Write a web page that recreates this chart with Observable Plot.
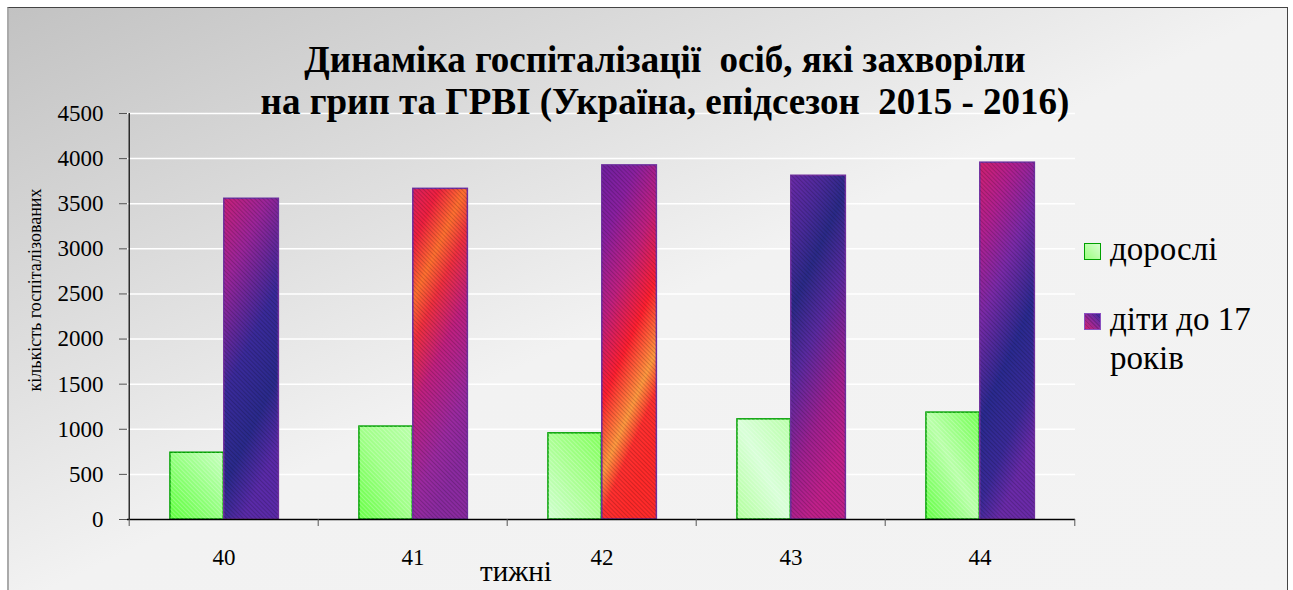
<!DOCTYPE html>
<html><head><meta charset="utf-8">
<script src="https://cdn.jsdelivr.net/npm/d3@7"></script>
<script src="https://cdn.jsdelivr.net/npm/@observablehq/plot@0.6"></script>
<style>
body{margin:0;width:1293px;height:590px;overflow:hidden;background:#fff;font-family:'Liberation Serif',serif;position:relative;}
#bg{position:absolute;left:7px;top:7px;width:1278px;height:600px;border-top:1px solid #444;border-right:1.5px solid #444;border-left:2px solid #aaa;background:linear-gradient(to bottom right,#c2c2c2 0%,#f2f2f2 50%,#f3f3f3 100%);}
#chart{position:absolute;left:0;top:0;}
#chart svg text{font-family:'Liberation Serif',serif;}
#title{position:absolute;left:0;width:1330px;top:39px;text-align:center;font-weight:bold;font-size:37px;line-height:42px;color:#000;white-space:pre;font-family:'Liberation Serif',serif;}
#ylab{position:absolute;left:35px;top:290px;transform:translate(-50%,-50%) rotate(-90deg);font-size:18px;white-space:nowrap;color:#000;font-family:'Liberation Serif',serif;}
#xlab{position:absolute;left:516px;top:557px;transform:translateX(-50%);font-size:29px;white-space:nowrap;color:#000;line-height:1;font-family:'Liberation Serif',serif;}
.leg{position:absolute;left:1084px;font-size:33px;line-height:39px;color:#000;font-family:'Liberation Serif',serif;}
.sw{position:absolute;left:0;width:17px;height:17px;box-sizing:border-box;}
.lt{position:absolute;left:26px;white-space:nowrap;}
</style></head><body>
<div id="bg"></div>
<div id="chart"></div>
<div id="title"></div>
<div id="ylab"></div>
<div id="xlab"></div>
<div id="legend"></div>
<script>
// ---- data ----
const weeks = ["40", "41", "42", "43", "44"];
const adults = [740, 1030, 955, 1110, 1185];
const children = [3555, 3665, 3925, 3810, 3955];
const seriesNames = ["дорослі", "діти до 17 років"];
const yTicks = [0, 500, 1000, 1500, 2000, 2500, 3000, 3500, 4000, 4500];
const titleLines = ["Динаміка госпіталізації  осіб, які захворіли", "на грип та ГРВІ (Україна, епідсезон  2015 - 2016)"];
const yLabel = "кількість госпіталізованих";
const xLabel = "тижні";

// ---- styles (gradients per bar) ----
const greenGrads = [
  [[0,"#c8ffc0"],[1,"#5cff3a"]],
  [[0,"#b8ffa8"],[0.5,"#a0ff88"],[1,"#66ff44"]],
  [[0,"#80ff5a"],[0.5,"#a8ff90"],[1,"#d0ffd0"]],
  [[0,"#b8ffa8"],[0.5,"#d8ffd8"],[1,"#b0ff9a"]],
  [[0,"#70ff50"],[0.5,"#b8ffa8"],[1,"#60ff40"]]
];
const purpleGrads = [
  [[0,"#c8207a"],[0.25,"#9a259a"],[0.55,"#3a2a9a"],[0.8,"#2a2a8c"],[1,"#5a2aa8"]],
  [[0,"#d82060"],[0.15,"#f02040"],[0.3,"#ff7030"],[0.42,"#f03040"],[0.6,"#c02080"],[0.85,"#9a2aa0"],[1,"#8a2aa0"]],
  [[0,"#7020a0"],[0.2,"#8a20a0"],[0.4,"#c02080"],[0.6,"#ff2030"],[0.78,"#ff9a40"],[0.88,"#ff3030"],[1,"#ff2a2a"]],
  [[0,"#6a2aa8"],[0.2,"#4a2a9a"],[0.35,"#2a2a88"],[0.55,"#5a2aa0"],[0.8,"#a02090"],[1,"#c0208a"]],
  [[0,"#d02070"],[0.2,"#b02090"],[0.4,"#7a2aa8"],[0.65,"#2a2a90"],[0.85,"#3a2a98"],[1,"#6a2aa8"]]
];

const W = 1293, H = 590, ML = 127, MR = 218, MT = 113, MB = 71;
const step = (W - ML - MR) / weeks.length;
const rows = weeks.map((w, i) => ({week: w, adults: adults[i], children: children[i], i}));

const font = "'Liberation Serif', serif";
const chart = Plot.plot({
  width: W, height: H, marginLeft: ML, marginRight: MR, marginTop: MT, marginBottom: MB,
  style: {background: "transparent", fontFamily: font, overflow: "visible", color: "#000"},
  x: {domain: weeks, padding: 0},
  y: {domain: [0, 4500]},
  color: {type: "identity"},
  marks: [
    Plot.gridY(yTicks, {stroke: "#fff", strokeOpacity: 1, strokeWidth: 1.5}),
    Plot.barY(rows, {x: "week", y: "adults", fill: d => `url(#gA${d.i})`, stroke: "#00a000", strokeWidth: 1.5, insetLeft: 0.216 * step, insetRight: 0.5 * step}),
    Plot.barY(rows, {x: "week", y: "adults", fill: "url(#stripesL)", insetLeft: 0.216 * step, insetRight: 0.5 * step}),
    Plot.barY(rows, {x: "week", y: "children", fill: d => `url(#gC${d.i})`, stroke: "#7030a0", strokeWidth: 1.5, insetLeft: 0.5 * step, insetRight: 0.209 * step}),
    Plot.barY(rows, {x: "week", y: "children", fill: "url(#stripes)", insetLeft: 0.5 * step, insetRight: 0.209 * step}),
    Plot.ruleY([0], {stroke: "#000", strokeWidth: 1.5}),
    Plot.ruleX([weeks[0]], {dx: -step / 2, stroke: "#000", strokeWidth: 1.2}),
    Plot.axisY(yTicks, {tickSize: 8, tickPadding: 16, fontSize: 23, stroke: "#555", fill: "#000", fontFamily: font, tickFormat: d => String(d), label: null}),
    Plot.axisX(weeks, {dx: -step / 2, tickSize: 7, tickFormat: () => "", stroke: "#555", label: null}),
    Plot.axisX([weeks[weeks.length - 1]], {dx: step / 2, tickSize: 7, tickFormat: () => "", stroke: "#555", label: null}),
    Plot.axisX(weeks, {tickSize: 0, tickPadding: 29, fontSize: 23, fill: "#000", fontFamily: font, label: null})
  ]
});

// gradient / pattern definitions
const defs = d3.select(chart).insert("defs", ":first-child");
function addGrad(id, stops, x1, y1, x2, y2) {
  const g = defs.append("linearGradient").attr("id", id)
    .attr("x1", x1).attr("y1", y1).attr("x2", x2).attr("y2", y2);
  stops.forEach(([o, c]) => g.append("stop").attr("offset", o).attr("stop-color", c));
}
greenGrads.forEach((s, i) => addGrad("gA" + i, s, 1, 0, 0, 1));
purpleGrads.forEach((s, i) => addGrad("gC" + i, s, 0, 0, 0.35, 1));
const p = defs.append("pattern").attr("id", "stripes").attr("width", 3).attr("height", 3)
  .attr("patternUnits", "userSpaceOnUse").attr("patternTransform", "rotate(-45)");
p.append("rect").attr("width", 1).attr("height", 3).attr("fill", "#000").attr("fill-opacity", 0.18);
const pl = defs.append("pattern").attr("id", "stripesL").attr("width", 3).attr("height", 3)
  .attr("patternUnits", "userSpaceOnUse").attr("patternTransform", "rotate(-45)");
pl.append("rect").attr("width", 1).attr("height", 3).attr("fill", "#fff").attr("fill-opacity", 0.25);

document.getElementById("chart").appendChild(chart);

// texts
document.getElementById("title").textContent = titleLines.join("\n");
document.getElementById("ylab").textContent = yLabel;
document.getElementById("xlab").textContent = xLabel;

const legend = document.getElementById("legend");
const legItems = [
  {top: 242, sw: "background:linear-gradient(45deg,#9cff80,#d8ffd0);border:1.5px solid #00a000;", lines: [seriesNames[0]]},
  {top: 312, sw: "background:repeating-linear-gradient(45deg,rgba(0,0,0,0.15) 0 1px,transparent 1px 3px),linear-gradient(45deg,#d02070,#8a2aa0 55%,#3a2a9a);border:1.5px solid #8a50c0;", lines: ["діти до 17", "років"]}
];
legItems.forEach(it => {
  const d = document.createElement("div");
  d.className = "leg";
  d.style.top = it.top + "px";
  const s = document.createElement("div");
  s.className = "sw";
  s.setAttribute("style", it.sw);
  s.style.top = "1px";
  d.appendChild(s);
  const t = document.createElement("div");
  t.className = "lt";
  t.style.top = "-12px";
  t.innerHTML = it.lines.join("<br>");
  d.appendChild(t);
  legend.appendChild(d);
});
</script>
</body></html>
